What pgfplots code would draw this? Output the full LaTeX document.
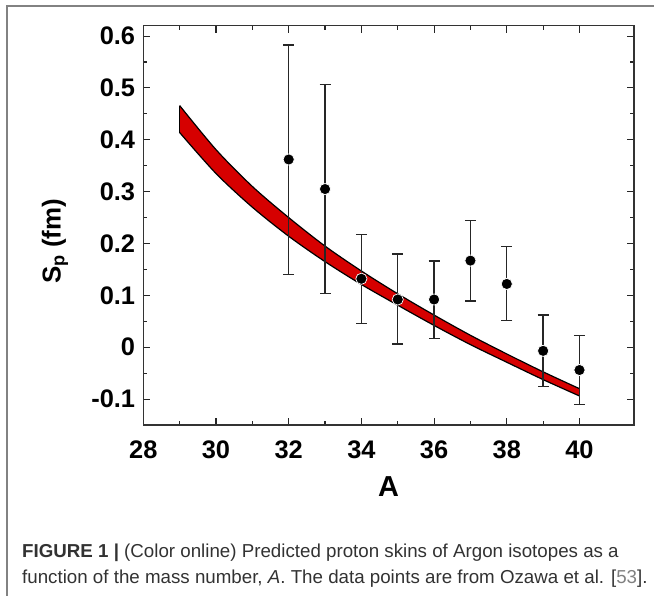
\documentclass[border=0pt]{standalone}
\usepackage{fontspec}
\setmainfont{Liberation Sans}
\usepackage{pgfplots}
\pgfplotsset{compat=1.18}
\usepackage{pgfplotstable}
\usepgfplotslibrary{fillbetween}
\definecolor{bandred}{RGB}{214,0,0}
\definecolor{captext}{RGB}{50,50,50}
\definecolor{framegray}{RGB}{130,130,130}

\pgfplotstableread{
A lo up
29 0.414 0.466
30 0.335 0.381
31 0.270 0.310
32 0.214 0.250
33 0.165 0.195
34 0.121 0.147
35 0.081 0.103
36 0.042 0.062
37 0.005 0.023
38 -0.029 -0.013
39 -0.0625 -0.0475
40 -0.094 -0.080
}\bandtable

\pgfplotstableread{
A S ep em
32 0.362 0.221 0.222
33 0.305 0.201 0.201
34 0.132 0.086 0.086
35 0.092 0.088 0.086
36 0.092 0.074 0.075
37 0.167 0.078 0.078
38 0.122 0.072 0.071
39 -0.007 0.069 0.069
40 -0.044 0.067 0.067
}\datatable

\begin{document}
\begin{tikzpicture}
\path (0,0) rectangle (654bp,596bp);
\begin{scope}
\clip (0,0) rectangle (654bp,596bp);
\draw[framegray, line width=1.3bp] (7bp,-2bp) -- (7bp,590bp) -- (656bp,590bp);
\end{scope}

\begin{axis}[
  at={(143.3bp,171bp)}, anchor=south west,
  scale only axis, width=490.7bp, height=399.3bp,
  xmin=28, xmax=41.5, ymin=-0.15, ymax=0.62,
  xtick={28,30,...,40},
  xticklabels={28,30,32,34,36,38,40},
  ytick={-0.1,0,0.1,0.2,0.3,0.4,0.5,0.6},
  yticklabels={-0.1,0,0.1,0.2,0.3,0.4,0.5,0.6},
  minor x tick num=1, minor y tick num=1,
  tick align=inside,
  xtick pos=both, ytick pos=both,
  xticklabel pos=lower, yticklabel pos=left,
  major tick length=7bp, minor tick length=4bp,
  every tick/.style={black!85, line width=1.1bp},
  axis line style={black!80, line width=1.4bp},
  xticklabel style={font=\fontsize{25.5}{26}\selectfont\bfseries, anchor=north, inner sep=0pt, yshift=-15.5bp},
  yticklabel style={font=\fontsize{25.5}{26}\selectfont\bfseries, anchor=east, inner sep=0pt, xshift=-8bp},
  xlabel={A},
  xlabel style={font=\fontsize{29}{30}\selectfont\bfseries, at={(axis description cs:0.5,0)}, anchor=center, yshift=-62bp, inner sep=0pt},
  ylabel={S\textsubscript{p} (fm)},
  ylabel style={font=\fontsize{26}{27}\selectfont\bfseries, at={(axis description cs:-0.18,0.46)}, anchor=center, rotate=0, inner sep=0pt},
]
\addplot[name path=up, draw=none, smooth] table[x=A, y=up] {\bandtable};
\addplot[name path=lo, draw=none, smooth] table[x=A, y=lo] {\bandtable};
\addplot[bandred] fill between[of=up and lo];
\addplot[black, line width=1.2bp, smooth] table[x=A, y=up] {\bandtable};
\addplot[black, line width=1.2bp, smooth] table[x=A, y=lo] {\bandtable};
\addplot[black, line width=1.2bp] coordinates {(29,0.414) (29,0.466)};

\addplot[only marks, mark=*, mark size=5.6bp,
  mark options={fill=black, draw=white, line width=0.7bp},
  error bars/.cd, y dir=both, y explicit,
  error bar style={black!85, line width=1.3bp},
  error mark options={rotate=90, mark size=5.5bp, line width=1.3bp, black!85}]
  table[x=A, y=S, y error plus=ep, y error minus=em] {\datatable};
\end{axis}

\node[anchor=base west, inner sep=0pt, text=captext, font=\fontsize{18.8}{20}\selectfont] at (22bp,39bp)
  {\textbf{FIGURE 1 |} (Color online) Predicted proton skins of Argon isotopes as a};
\node[anchor=base west, inner sep=0pt, text=captext, font=\fontsize{18.8}{20}\selectfont] at (22bp,13bp)
  {function of the mass number, \textit{A}. The data points are from Ozawa et al. [{\color{gray}53}].};
\end{tikzpicture}
\end{document}
